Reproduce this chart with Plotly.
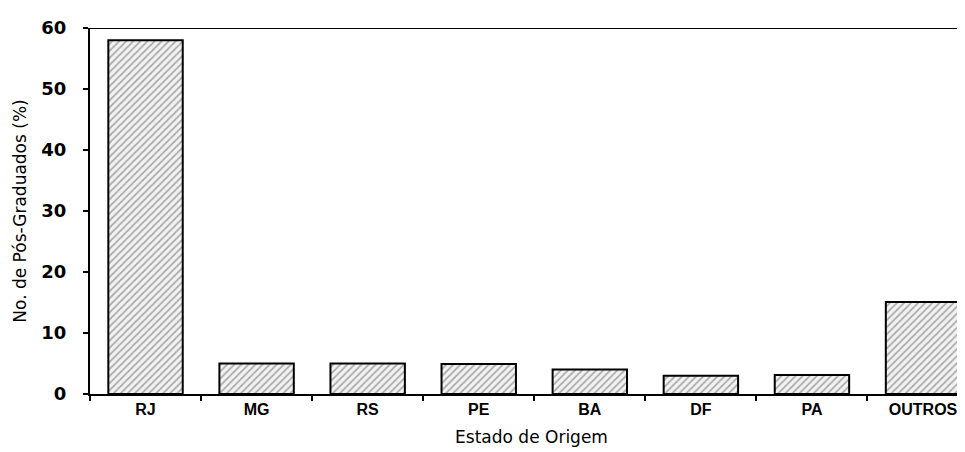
import plotly.graph_objects as go

categories = ["RJ", "MG", "RS", "PE", "BA", "DF", "PA", "OUTROS"]
values = [58.0, 5.0, 5.0, 4.9, 4.0, 3.0, 3.1, 15.1]
y_ticks = [0, 10, 20, 30, 40, 50, 60]

FONT = "Arial, 'Liberation Sans', sans-serif"
WIDE = "'DejaVu Sans', sans-serif"

fig = go.Figure()
fig.add_trace(go.Bar(
    x=categories,
    y=values,
    marker=dict(
        color="#eeeeee",
        line=dict(color="black", width=2),
        pattern=dict(shape="/", fgcolor="#666666", bgcolor="#f3f3f3",
                     size=5, solidity=0.35),
    ),
    width=0.67,
    hoverinfo="x+y",
))

fig.update_layout(
    width=965, height=452,
    margin=dict(l=82, r=0, t=20, b=66),
    paper_bgcolor="white", plot_bgcolor="white",
    showlegend=False,
    font=dict(family=FONT, color="black"),
    xaxis=dict(
        type="category",
        range=[-0.5, 7.45],
        showline=True, linecolor="black", linewidth=2,
        ticks="outside", ticklen=5, tickwidth=1.5, tickcolor="black",
        tickson="boundaries",
        tickfont=dict(size=16, family=FONT, weight="bold"),
        title=dict(text="Estado de Origem", font=dict(size=17, family=WIDE), standoff=14),
        showgrid=False, zeroline=False,
    ),
    yaxis=dict(
        range=[0, 60],
        tickvals=y_ticks,
        showline=True, linecolor="black", linewidth=2,
        ticks="outside", ticklen=5, tickwidth=1.5, tickcolor="black",
        ticklabelstandoff=13,
        tickfont=dict(size=18, family=WIDE, weight="bold"),
        title=dict(text="No. de Pós-Graduados (%)", font=dict(size=17, family=WIDE), standoff=10),
        showgrid=False, zeroline=False,
    ),
)

fig.add_shape(type="line", xref="paper", yref="y", x0=0, x1=1, y0=60, y1=60,
              line=dict(color="black", width=2))

fig.write_html("out.html")
